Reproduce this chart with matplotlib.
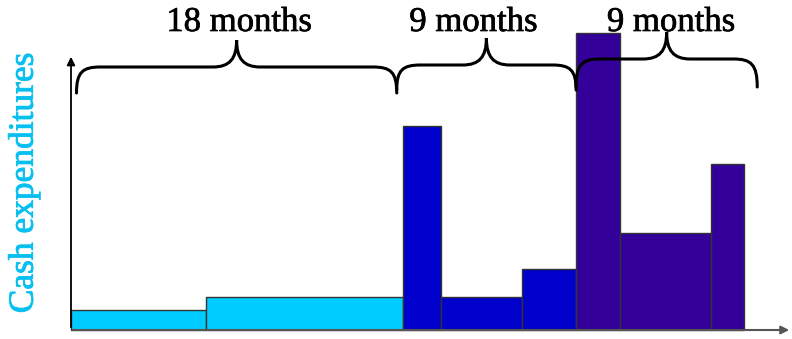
import numpy as np
import matplotlib.pyplot as plt
import matplotlib.patheffects as pe
from matplotlib.path import Path
from matplotlib.patches import PathPatch

# bar edges (months) and heights (arbitrary spend units)
edges = [0, 7.4, 18.15, 20.2, 24.65, 27.6, 30.0, 35.0, 36.8]
heights = [2.0, 3.3, 20.4, 3.3, 6.1, 29.7, 9.7, 16.6]
colors = ['#00CCFF', '#00CCFF', '#0000CC', '#0000CC', '#0000CC',
          '#330099', '#330099', '#330099']

# braces: start, end, label
brace_spans = [(0.3, 17.8), (17.8, 27.6), (27.6, 37.5)]
brace_labels = ['18 months', '9 months', '9 months']
brace_ends = [23.7, 24.0, 24.3]
brace_mid = [26.3, 26.5, 27.1]
brace_tip = [29.0, 29.2, 29.8]

serif = ['Liberation Serif', 'DejaVu Serif']

fig = plt.figure(figsize=(7.92, 3.39), dpi=100)
ax = fig.add_axes([0, 0, 1, 1])
ax.set_xlim(-3.88, 39.4)
ax.set_ylim(-0.9, 33.0)
ax.axis('off')

left = np.array(edges[:-1])
widths = np.diff(edges)
ax.bar(left, heights, width=widths, align='edge', color=colors,
       edgecolor='#333333', linewidth=1.0, zorder=2)

# axes with arrows
ax.annotate('', xy=(0, 27.6), xytext=(0, 0),
            arrowprops=dict(arrowstyle='-|>', color='black', lw=1.3,
                            mutation_scale=12), zorder=3)
ax.annotate('', xy=(39.4, 0), xytext=(-0.05, 0),
            arrowprops=dict(arrowstyle='-|>', color='#555555', lw=1.5,
                            mutation_scale=12), zorder=3)


def brace(x0, x1, ye, ym, yt, r=1.3):
    xm = (x0 + x1) / 2
    verts = [(x0, ye),
             (x0, ye + 0.8 * (ym - ye)), (x0 + 0.25 * r, ym), (x0 + r, ym),
             (xm - r, ym),
             (xm - 0.3 * r, ym), (xm, ym + 0.3 * (yt - ym)), (xm, yt),
             (xm, ym + 0.3 * (yt - ym)), (xm + 0.3 * r, ym), (xm + r, ym),
             (x1 - r, ym),
             (x1 - 0.25 * r, ym), (x1, ye + 0.8 * (ym - ye)), (x1, ye)]
    codes = [Path.MOVETO,
             Path.CURVE4, Path.CURVE4, Path.CURVE4,
             Path.LINETO,
             Path.CURVE4, Path.CURVE4, Path.CURVE4,
             Path.CURVE4, Path.CURVE4, Path.CURVE4,
             Path.LINETO,
             Path.CURVE4, Path.CURVE4, Path.CURVE4]
    return PathPatch(Path(verts, codes), fill=False, lw=2.2,
                     edgecolor='black', capstyle='round', zorder=4)


for i, (x0, x1) in enumerate(brace_spans):
    ax.add_patch(brace(x0, x1, brace_ends[i], brace_mid[i], brace_tip[i]))

label_x = [9.2, 22.0, 32.8]
for i, lab in enumerate(brace_labels):
    ax.text(label_x[i], 29.9, lab, ha='center', va='baseline',
            fontsize=25, family=serif, color='black', zorder=5,
            path_effects=[pe.withStroke(linewidth=0.5, foreground='black')])

ax.text(-2.57, 14.7, 'Cash expenditures', rotation=90, ha='center',
        va='center', fontsize=25.5, family=serif, color='#08C0F0',
        path_effects=[pe.withStroke(linewidth=0.6, foreground='#08C0F0')])

fig.savefig('out.png', dpi=100)
